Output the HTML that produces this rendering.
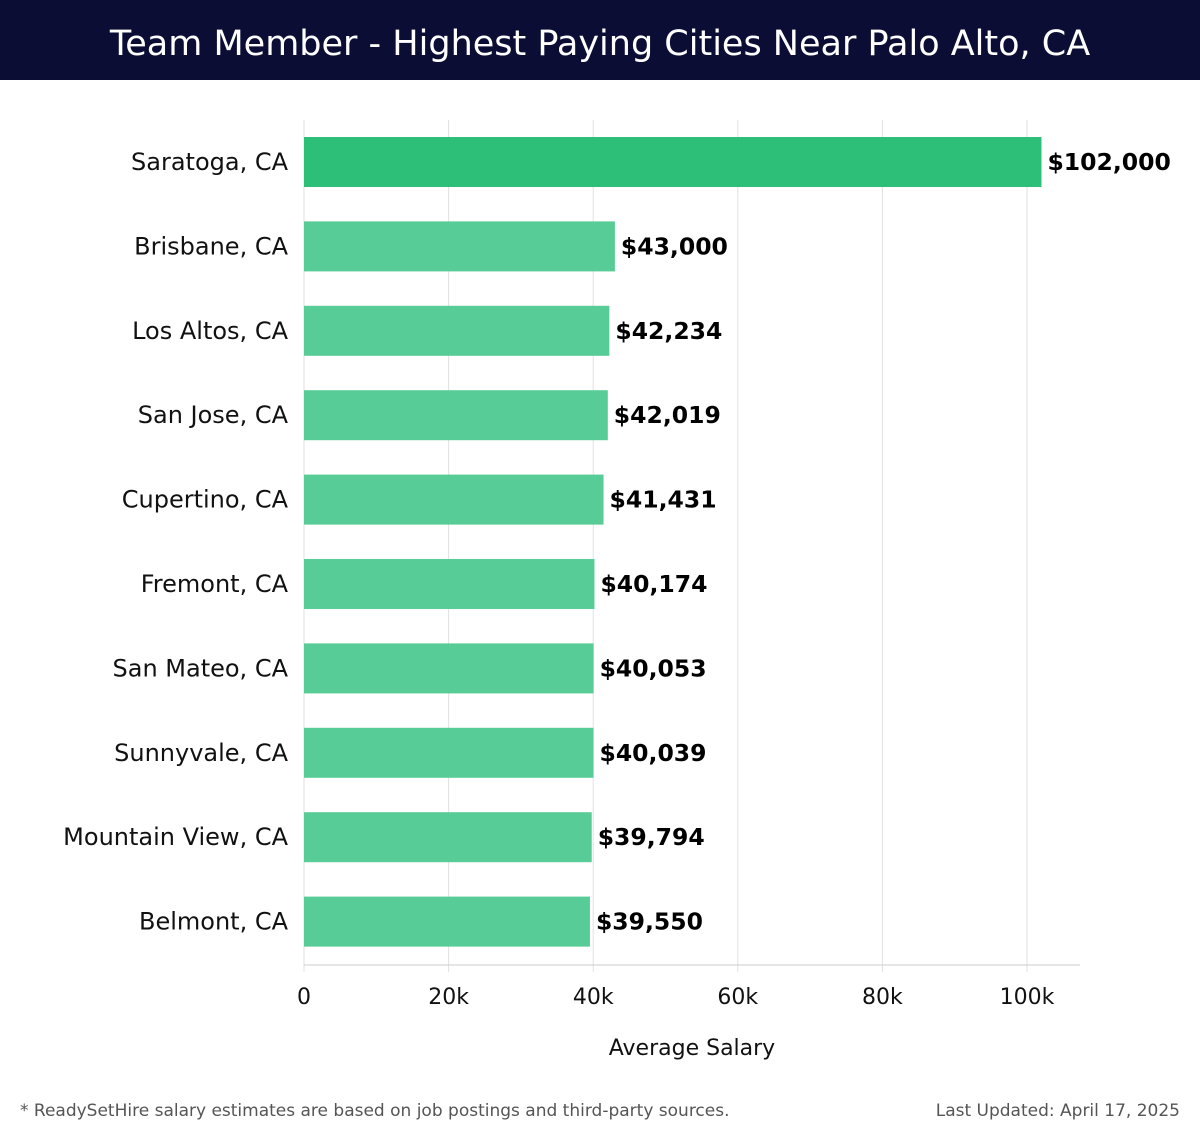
<!DOCTYPE html>
<html><head><meta charset="utf-8"><style>
body{margin:0;width:1200px;height:1140px;background:#fff;font-family:"DejaVu Sans","Liberation Sans",sans-serif;overflow:hidden}
#title{position:absolute;left:0;top:0;width:1200px;height:80px;background:#0b0d35;color:#fff;font-size:35px;line-height:88px;text-align:center}
.foot{position:absolute;top:1101px;font-size:17px;color:#555}
</style></head><body>
<div id="title">Team Member - Highest Paying Cities Near Palo Alto, CA</div>
<svg id="chart" width="1200" height="1140" style="position:absolute;left:0;top:0"></svg>
<div class="foot" style="left:20px">* ReadySetHire salary estimates are based on job postings and third-party sources.</div>
<div class="foot" style="right:20px">Last Updated: April 17, 2025</div>
<script>
const cities=["Saratoga, CA","Brisbane, CA","Los Altos, CA","San Jose, CA","Cupertino, CA","Fremont, CA","San Mateo, CA","Sunnyvale, CA","Mountain View, CA","Belmont, CA"];
const salaries=[102000,43000,42234,42019,41431,40174,40053,40039,39794,39550];
const ticks=[0,20000,40000,60000,80000,100000];
const tickLabels=["0","20k","40k","60k","80k","100k"];
const svg=document.getElementById('chart');
const NS="http://www.w3.org/2000/svg";
const x=v=>304+v*(723/100000);
const yc=i=>162+i*84.4;
function mk(t,a,txt){const e=document.createElementNS(NS,t);for(const k in a)e.setAttribute(k,a[k]);if(txt!==undefined)e.textContent=txt;svg.appendChild(e);return e;}
ticks.forEach((t,i)=>{
 const g=mk('line',{x1:x(t),x2:x(t),y1:120,y2:972,stroke:'#e0e0e0','stroke-width':1});
 
 
 const l=mk('text',{x:x(t),y:1004,'font-size':22,'text-anchor':'middle',fill:'#111'},tickLabels[i]);
 
 
});
const ax=mk('line',{x1:304,x2:1080,y1:965,y2:965,stroke:'#ccc','stroke-width':1});


cities.forEach((c,i)=>{
 const b=mk('rect',{x:304,y:yc(i)-25,width:x(salaries[i])-304,height:50,fill:i==0?'#2dbe78':'#57cc96'});
 
 
 const l=mk('text',{x:288,y:yc(i)+8,'font-size':24,'text-anchor':'end',fill:'#111'},c);
 
 
 const v=mk('text',{x:x(salaries[i])+6,y:yc(i)+8,'font-size':23.5,'font-weight':'bold',fill:'#000'},'$'+salaries[i].toLocaleString('en-US'));
 
 
});
const at=mk('text',{x:692,y:1055,'font-size':22,'text-anchor':'middle',fill:'#111'},'Average Salary');


</script>
</body></html>
